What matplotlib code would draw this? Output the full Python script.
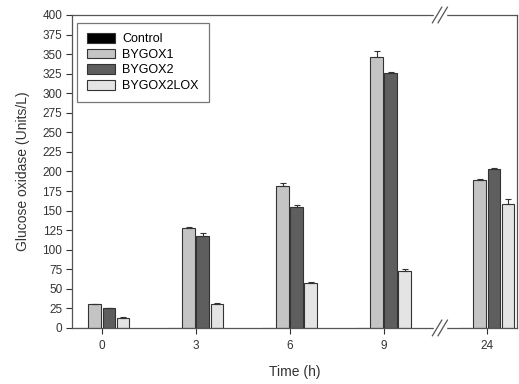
import numpy as np
import matplotlib
matplotlib.use("Agg")
import matplotlib.pyplot as plt
from matplotlib.lines import Line2D

plt.rcParams["font.family"] = ["Liberation Sans", "DejaVu Sans"]

# data
times = ["0", "3", "6", "9", "24"]
xpos = [0, 1, 2, 3, 4.1]
strains = ["Control", "BYGOX1", "BYGOX2", "BYGOX2LOX"]
control = [0, 0, 0, 0, 0]
bygox1 = [30, 128, 182, 346, 189]
bygox2 = [25, 118, 154, 326, 203]
bygox2lox = [13, 31, 57, 73, 158]
err_control = [0, 0, 0, 0, 0]
err_bygox1 = [1, 1, 3, 8, 1]
err_bygox2 = [1, 3, 3, 1, 1]
err_bygox2lox = [1, 1, 2, 2, 7]

colors = ["#000000", "#c4c4c4", "#5e5e5e", "#e4e4e4"]

fig = plt.figure(figsize=(5.19, 3.84), dpi=100)
ax = fig.add_axes([0.139, 0.146, 0.857, 0.815])

w = 0.135
step = 0.15
series = [control, bygox1, bygox2, bygox2lox]
errs = [err_control, err_bygox1, err_bygox2, err_bygox2lox]
x = np.array(xpos)
for i, (vals, e) in enumerate(zip(series, errs)):
    off = (i - 1.5) * step
    ax.bar(x + off, vals, width=w, color=colors[i], edgecolor="#333333",
           linewidth=0.8, label=strains[i], zorder=2)
    if i > 0:
        ax.errorbar(x + off, vals, yerr=[np.zeros(len(e)), e], fmt="none",
                    ecolor="#333333", elinewidth=0.8, capsize=2.5, capthick=0.8, zorder=3)

ax.set_xlim(-0.316, 4.42)
ax.set_ylim(0, 400)
ax.set_yticks(np.arange(0, 401, 25))
ax.set_xticks(xpos)
ax.set_xticklabels(times)
ax.tick_params(axis="y", labelsize=8.5, colors="#333333", length=4, width=0.8, pad=3)
ax.tick_params(axis="x", labelsize=8.5, colors="#333333", length=4, width=0.8, pad=5)
for s in ax.spines.values():
    s.set_color("#555555")
    s.set_linewidth(0.9)
ax.set_ylabel("Glucose oxidase (Units/L)", fontsize=10, color="#333333", labelpad=9)
ax.set_xlabel("Time (h)", fontsize=10, color="#333333", labelpad=9)

# axis break marks
bx = 3.6
for yy in (0, 1):
    ax.add_patch(plt.Rectangle((bx - 0.06, yy - 0.012), 0.12, 0.024,
                               transform=ax.get_xaxis_transform(), color="white",
                               clip_on=False, zorder=5))
    for d in (-0.03, 0.03):
        ax.add_line(Line2D([bx + d - 0.05, bx + d + 0.05], [yy - 0.025, yy + 0.025],
                           transform=ax.get_xaxis_transform(), color="#555555",
                           linewidth=0.9, clip_on=False, zorder=6))

leg = ax.legend(loc="upper left", bbox_to_anchor=(0.011, 0.974), borderaxespad=0,
                fontsize=9, frameon=True, fancybox=False, edgecolor="#555555",
                handlelength=2.25, handleheight=0.8, borderpad=0.8, labelspacing=0.28,
                handletextpad=0.55)
leg.get_frame().set_linewidth(0.9)

fig.savefig("out.png", dpi=100)
